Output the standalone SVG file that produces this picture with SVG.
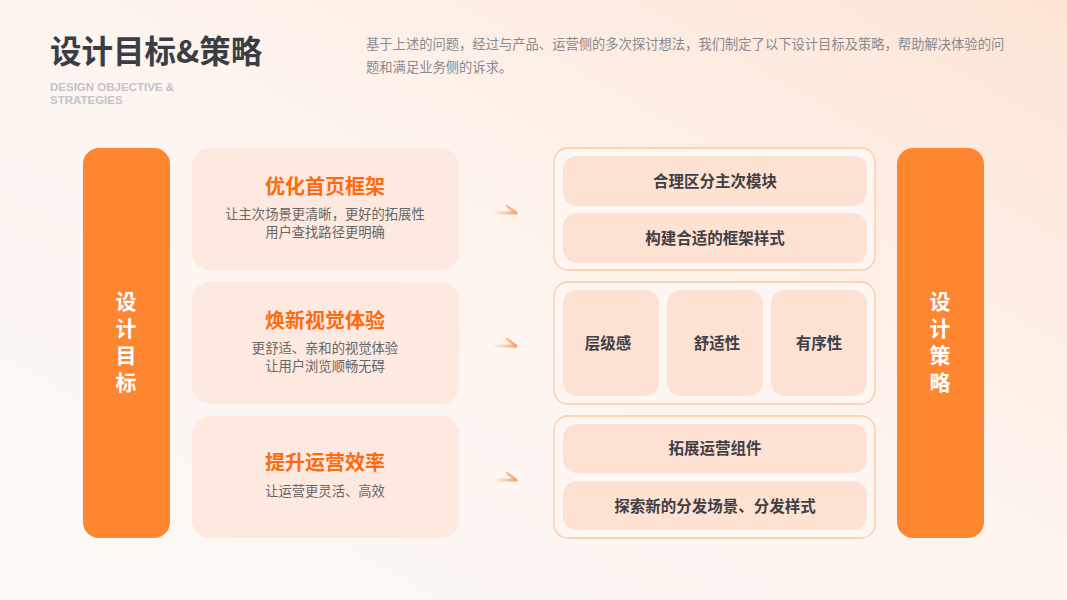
<svg xmlns="http://www.w3.org/2000/svg" width="1067" height="600" viewBox="0 0 1067 600">
<defs>
<linearGradient id="bg" x1="0" y1="1" x2="1" y2="0">
<stop offset="0" stop-color="#fdf9f7"/>
<stop offset="0.55" stop-color="#fdf4ee"/>
<stop offset="1" stop-color="#fde4d6"/>
</linearGradient>
<linearGradient id="arr" x1="0" y1="0" x2="1" y2="0">
<stop offset="0" stop-color="#fbb58a" stop-opacity="0"/>
<stop offset="1" stop-color="#f9a066"/>
</linearGradient>
<style>
.cjk{font-family:"Noto Sans CJK SC","Noto Sans",sans-serif}
.bar{fill:#ff8630}
.bartxt{fill:#ffffff;font-size:21px;font-weight:700;text-anchor:middle;writing-mode:vertical-rl;text-orientation:upright;letter-spacing:6px}
.card{fill:#fde9df}
.ct{fill:#ff6a0e;font-size:20px;font-weight:700;text-anchor:middle}
.cs{fill:#666666;font-size:13.3px;text-anchor:middle}
.box{fill:#fdf6f2;stroke:#fcc9a3;stroke-width:1.3}
.inner{fill:#fde1d3}
.it{fill:#3f3f44;font-size:15.5px;font-weight:700;text-anchor:middle}
.arrow{fill:none;stroke:url(#arr);stroke-width:3;stroke-linecap:round;stroke-linejoin:round}
</style>
</defs>
<rect width="1067" height="600" fill="url(#bg)"/>
<g id="header">
<text x="50" y="63" class="cjk" font-size="31.5" font-weight="700" fill="#3a3d44">设计目标&amp;策略</text>
<text x="50" y="91" font-family="Liberation Sans, Arial, sans-serif" font-size="11.5" font-weight="700" fill="#c3c3c9">DESIGN OBJECTIVE &amp;</text>
<text x="50" y="104" font-family="Liberation Sans, Arial, sans-serif" font-size="11.5" font-weight="700" fill="#c3c3c9">STRATEGIES</text>
<text x="366" y="49" class="cjk" font-size="13.3" fill="#8a8a8e">基于上述的问题，经过与产品、运营侧的多次探讨想法，我们制定了以下设计目标及策略，帮助解决体验的问</text>
<text x="366" y="72" class="cjk" font-size="13.3" fill="#8a8a8e">题和满足业务侧的诉求。</text>
</g>
<g id="goal-bar">
<rect x="83" y="148" width="87" height="390" rx="16" class="bar"/>
<text x="126" y="345" class="cjk bartxt">设计目标</text>
</g>
<g id="goal-1">
<rect x="192" y="148" width="267" height="122" rx="18" class="card"/>
<text x="325" y="194" class="cjk ct">优化首页框架</text>
<text x="325" y="219" class="cjk cs">让主次场景更清晰，更好的拓展性</text>
<text x="325" y="237" class="cjk cs">用户查找路径更明确</text>
</g>
<g id="goal-2">
<rect x="192" y="282" width="267" height="122" rx="18" class="card"/>
<text x="325" y="328" class="cjk ct">焕新视觉体验</text>
<text x="325" y="353" class="cjk cs">更舒适、亲和的视觉体验</text>
<text x="325" y="371" class="cjk cs">让用户浏览顺畅无碍</text>
</g>
<g id="goal-3">
<rect x="192" y="416" width="267" height="122" rx="18" class="card"/>
<text x="325" y="470" class="cjk ct">提升运营效率</text>
<text x="325" y="496" class="cjk cs">让运营更灵活、高效</text>
</g>
<g id="connectors">
<path class="arrow" d="M492 213 H516 L507 206"/>
<path class="arrow" d="M492 346 H516 L507 339"/>
<path class="arrow" d="M492 480 H516 L507 473"/>
</g>
<g id="strategy-1">
<rect x="554" y="148" width="321" height="122" rx="14" class="box"/>
<rect x="563" y="156" width="304" height="50" rx="14" class="inner"/>
<text x="715" y="187" class="cjk it">合理区分主次模块</text>
<rect x="563" y="213" width="304" height="50" rx="14" class="inner"/>
<text x="715" y="244" class="cjk it">构建合适的框架样式</text>
</g>
<g id="strategy-2">
<rect x="554" y="282" width="321" height="122" rx="14" class="box"/>
<rect x="563" y="290" width="96" height="106" rx="14" class="inner"/>
<text x="608" y="349" class="cjk it">层级感</text>
<rect x="667" y="290" width="96" height="106" rx="14" class="inner"/>
<text x="717" y="349" class="cjk it">舒适性</text>
<rect x="771" y="290" width="96" height="106" rx="14" class="inner"/>
<text x="819" y="349" class="cjk it">有序性</text>
</g>
<g id="strategy-3">
<rect x="554" y="416" width="321" height="122" rx="14" class="box"/>
<rect x="563" y="424" width="304" height="49" rx="14" class="inner"/>
<text x="715" y="454" class="cjk it">拓展运营组件</text>
<rect x="563" y="481" width="304" height="49" rx="14" class="inner"/>
<text x="715" y="512" class="cjk it">探索新的分发场景、分发样式</text>
</g>
<g id="strategy-bar">
<rect x="897" y="148" width="87" height="390" rx="16" class="bar"/>
<text x="940" y="345" class="cjk bartxt">设计策略</text>
</g>
</svg>
